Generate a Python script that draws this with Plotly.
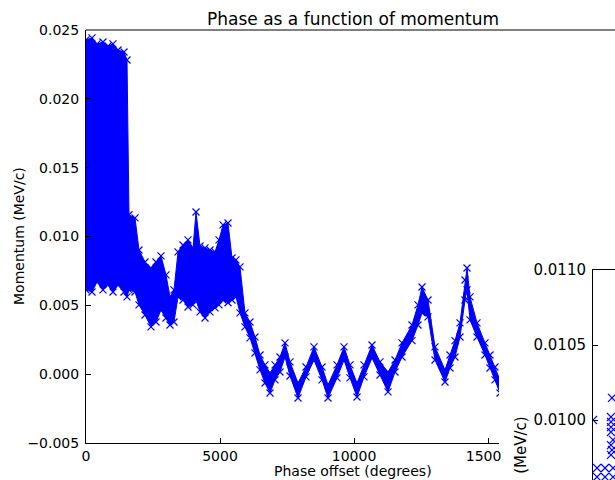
import plotly.graph_objects as go

# ---- data ----
# Main scatter: phase offset (degrees) with the upper / lower edge of the dense cloud of points (MeV/c)
phase = [0, 224, 410, 634, 821, 1007, 1194, 1418, 1530, 1604, 1828, 1977, 2201, 2425, 2612,
         2798, 2985, 3134, 3283, 3433, 3619, 3806, 3992, 4104, 4253, 4440, 4626, 4813, 4962,
         5111, 5298, 5447, 5596, 5746, 5932, 6119, 6305, 6492, 6678, 6865, 7052, 7238, 7425,
         7611, 7910, 8208, 8507, 8805, 9029, 9365, 9626, 9850, 10111, 10372, 10671, 10969,
         11268, 11529, 11790, 12163, 12387, 12536, 12760, 13021, 13394, 13581, 13767, 13954,
         14140, 14215, 14327, 14588, 14886, 15073, 15260, 15447]
mom_upper = [0.02428, 0.02443, 0.02399, 0.02413, 0.02384, 0.02399, 0.02355, 0.02340, 0.02282,
             0.01158, 0.01135, 0.00902, 0.00815, 0.00771, 0.00815, 0.00859, 0.00721, 0.00561,
             0.00612, 0.00888, 0.00938, 0.00975, 0.00917, 0.01178, 0.00931, 0.00917, 0.00902,
             0.00888, 0.00975, 0.01084, 0.01098, 0.00844, 0.00830, 0.00779, 0.00445, 0.00379,
             0.00270, 0.00139, 0.00067, 0.00009, 0.00067, 0.00125, 0.00227, 0.00089, -0.00064,
             0.00052, 0.00198, 0.00052, -0.00078, 0.00067, 0.00198, 0.00067, -0.00064, 0.00067,
             0.00212, 0.00089, 0.00015, 0.00103, 0.00227, 0.00357, 0.00503, 0.00633, 0.00539,
             0.00198, 0.00031, 0.00139, 0.00244, 0.00372, 0.00684, 0.00771, 0.00561, 0.00372,
             0.00227, 0.00139, 0.00052, -0.00042]
mom_lower = [0.00612, 0.00597, 0.00670, 0.00612, 0.00648, 0.00597, 0.00648, 0.00597, 0.00561,
             0.00612, 0.00597, 0.00503, 0.00430, 0.00343, 0.00379, 0.00466, 0.00408, 0.00357,
             0.00379, 0.00561, 0.00539, 0.00488, 0.00503, 0.00539, 0.00452, 0.00408, 0.00452,
             0.00482, 0.00503, 0.00539, 0.00519, 0.00539, 0.00561, 0.00445, 0.00343, 0.00264,
             0.00154, 0.00031, -0.00064, -0.00137, -0.00042, 0.00016, 0.00125, -0.00013, -0.00173,
             -0.00020, 0.00103, -0.00042, -0.00173, -0.00027, 0.00103, -0.00027, -0.00166, -0.00020,
             0.00118, -0.00006, -0.00129, 0.00016, 0.00125, 0.00244, 0.00357, 0.00445, 0.00416,
             0.00103, -0.00057, 0.00045, 0.00125, 0.00270, 0.00539, 0.00612, 0.00394, 0.00270,
             0.00139, 0.00045, -0.00042, -0.00137]

# Inset scatter (zoomed view)
inset_phase = [0, 38, 36, 36, 36, 36, 40, 36, 38, 36, 8, 24, 40, 8, 24, 40]
inset_mom = [0.01000, 0.010147, 0.01002, 0.009987, 0.009953, 0.00992, 0.009867, 0.009833,
             0.0098, 0.009767, 0.00968, 0.00968, 0.00968, 0.00962, 0.00962, 0.00962]

x_ticks = [0, 5000, 10000, 15000]
x_ticktext = ["0", "5000", "10000", "1500\u2007"]
y_ticks = [-0.005, 0.000, 0.005, 0.010, 0.015, 0.020, 0.025]
y_ticktext = ["\u22120.005", "0.000", "0.005", "0.010", "0.015", "0.020", "0.025"]
inset_y_ticks = [0.0100, 0.0105, 0.0110]
inset_y_ticktext = ["0.0100", "0.0105", "0.0110"]

W, H = 615, 480
FONT = "DejaVu Sans"
BLUE = "#0000ff"


def px_x(p):
    return p / W


def px_y(p):
    return 1 - p / H


fig = go.Figure()

# dense cloud body
fig.add_trace(go.Scatter(
    x=phase + phase[::-1], y=mom_upper + mom_lower[::-1],
    mode="lines", fill="toself", fillcolor=BLUE,
    line=dict(color=BLUE, width=1), hoverinfo="skip", showlegend=False,
    xaxis="x", yaxis="y"))
# 'x' markers along the cloud edges
fig.add_trace(go.Scatter(
    x=phase + phase, y=mom_upper + mom_lower, mode="markers",
    marker=dict(symbol="x-thin", size=7, line=dict(color=BLUE, width=1.2)),
    showlegend=False, xaxis="x", yaxis="y"))
# inset
fig.add_trace(go.Scatter(
    x=inset_phase, y=inset_mom, mode="markers",
    marker=dict(symbol="x-thin", size=8, line=dict(color=BLUE, width=1.2)),
    showlegend=False, xaxis="x3", yaxis="y3"))

x_end = 15409
common = dict(showgrid=False, zeroline=False, automargin=False)
fig.update_layout(
    template="none",
    width=W, height=H, autosize=False,
    margin=dict(l=0, r=0, t=0, b=0, pad=0, autoexpand=False),
    paper_bgcolor="white", plot_bgcolor="white",
    font=dict(family=FONT, size=14, color="black"),
    showlegend=False,
    xaxis=dict(domain=[px_x(86), px_x(499)], range=[0, x_end], anchor="y",
               showline=True, linecolor="black", linewidth=1,
               ticks="inside", ticklen=5, tickcolor="black",
               tickvals=x_ticks, ticktext=x_ticktext, tickfont=dict(size=14), **common),
    xaxis2=dict(domain=[px_x(86), px_x(499)], range=[0, x_end], anchor="y", overlaying="x",
                side="top", showline=False,
                ticks="inside", ticklen=5, tickcolor="black", tickvals=x_ticks,
                showticklabels=False, **common),
    yaxis=dict(domain=[px_y(443), px_y(30)], range=[-0.005, 0.025], anchor="x",
               showline=True, linecolor="black", linewidth=1,
               ticks="inside", ticklen=5, tickcolor="black",
               tickvals=y_ticks, ticktext=y_ticktext, tickfont=dict(size=14),
               ticklabelstandoff=3, **common),
    xaxis3=dict(domain=[px_x(593), 1], range=[0, 44], anchor="y3", side="top",
                showline=True, linecolor="black", linewidth=1,
                ticks="", showticklabels=False, **common),
    yaxis3=dict(domain=[0, px_y(270)], range=[0.0096, 0.0110], anchor="x3",
                showline=True, linecolor="black", linewidth=1,
                ticks="inside", ticklen=5, tickcolor="black",
                tickvals=inset_y_ticks, ticktext=inset_y_ticktext, tickfont=dict(size=15),
                ticklabelstandoff=3, **common),
)

# top spine of the main axes (runs off the right edge)
fig.add_shape(type="line", xref="paper", yref="paper",
              x0=px_x(86), x1=1.0, y0=px_y(30), y1=px_y(30),
              line=dict(color="black", width=1))

# titles
fig.add_annotation(text="Phase as a function of momentum", xref="paper", yref="paper",
                   x=px_x(353), y=px_y(19), showarrow=False, xanchor="center", yanchor="middle",
                   font=dict(size=17))
fig.add_annotation(text="Phase offset (degrees)", xref="paper", yref="paper",
                   x=px_x(353), y=px_y(471), showarrow=False, xanchor="center", yanchor="middle",
                   font=dict(size=14))
fig.add_annotation(text="Momentum (MeV/c)", xref="paper", yref="paper",
                   x=px_x(19), y=px_y(236), showarrow=False, textangle=-90,
                   xanchor="center", yanchor="middle", font=dict(size=14))
fig.add_annotation(text="Momentum (MeV/c)", xref="paper", yref="paper",
                   x=px_x(521), y=px_y(490), showarrow=False, textangle=-90,
                   xanchor="center", yanchor="middle", font=dict(size=15))

fig.write_html("out.html")
